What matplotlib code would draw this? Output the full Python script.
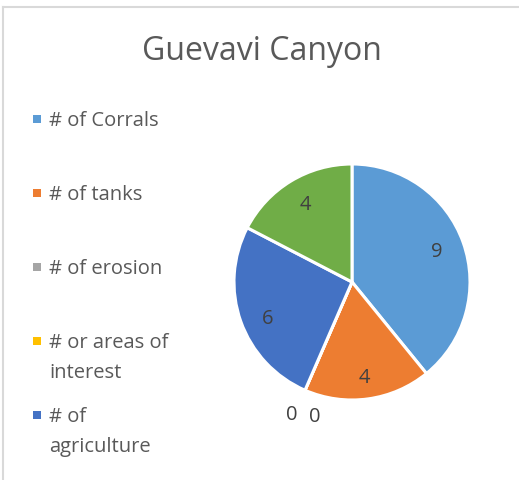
import numpy as np
import matplotlib

matplotlib.use("Agg")
import matplotlib.pyplot as plt
from matplotlib.patches import Rectangle
from matplotlib.lines import Line2D

categories = ["# of Corrals", "# of tanks", "# of erosion",
              "# or areas of\ninterest", "# of\nagriculture", "# of other"]
counts = [9, 4, 0, 0, 6, 4]
colors = ["#5B9BD5", "#ED7D31", "#A5A5A5", "#FFC000", "#4472C4", "#70AD47"]
n_legend = 5  # last category does not fit in the legend box

TEXT = "#595959"
plt.rcParams["font.family"] = ["Open Sans", "DejaVu Sans"]

W, H = 519, 480
fig = plt.figure(figsize=(W / 100, H / 100), dpi=100)

# chart area frame (left and top edges visible)
fig.add_artist(Line2D([3 / W, 3 / W], [0, 1 - 7 / H], color="#D9D9D9", lw=1.5))
fig.add_artist(Line2D([3 / W, 1], [1 - 7 / H, 1 - 7 / H], color="#D9D9D9", lw=1.5))

fig.text(262 / W, 1 - 52 / H, "Guevavi Canyon", ha="center", va="center",
         fontsize=23, color=TEXT)

# pie
cx, cy, r = 352, 282, 118
ax = fig.add_axes([(cx - r) / W, (H - cy - r) / H, 2 * r / W, 2 * r / H])
wedges, _ = ax.pie(counts, colors=colors, startangle=90, counterclock=False,
                   radius=1, wedgeprops=dict(edgecolor="white", linewidth=2.2))
ax.set_xlim(-1, 1)
ax.set_ylim(-1, 1)
ax.axis("off")

total = sum(counts)
start = 0.0
zero_i = 0
for v, w in zip(counts, wedges):
    mid = np.deg2rad(start + 180 * v / total)  # clockwise from 12 o'clock
    if v > 0:
        d = 0.76
        dy = -0.06 if np.cos(mid) < 0 else 0.0
        ax.text(d * np.sin(mid), d * np.cos(mid) + dy, f"{v}", ha="center",
                va="center", fontsize=14.5, color="#404040")
    else:
        d = 1.2
        ax.text(d * np.sin(mid) - 0.03 + 0.19 * zero_i,
                d * np.cos(mid) - 0.025 - 0.02 * zero_i,
                f"{v}", ha="center", va="center", fontsize=14.5, color="#404040",
                clip_on=False)
        zero_i += 1
    start += 360 * v / total

# legend, one line of text at a time
y0, step, line_h = 119, 74, 30
for i in range(n_legend):
    y = y0 + i * step
    fig.add_artist(Rectangle((33 / W, 1 - (y + 4) / H), 8 / W, 8 / H,
                             transform=fig.transFigure, color=colors[i], lw=0))
    for k, line in enumerate(categories[i].split("\n")):
        fig.text(49 / W, 1 - (y + 7 + k * line_h) / H, line, ha="left",
                 va="baseline", fontsize=14.5, color=TEXT)

fig.savefig("out.png", dpi=100)
